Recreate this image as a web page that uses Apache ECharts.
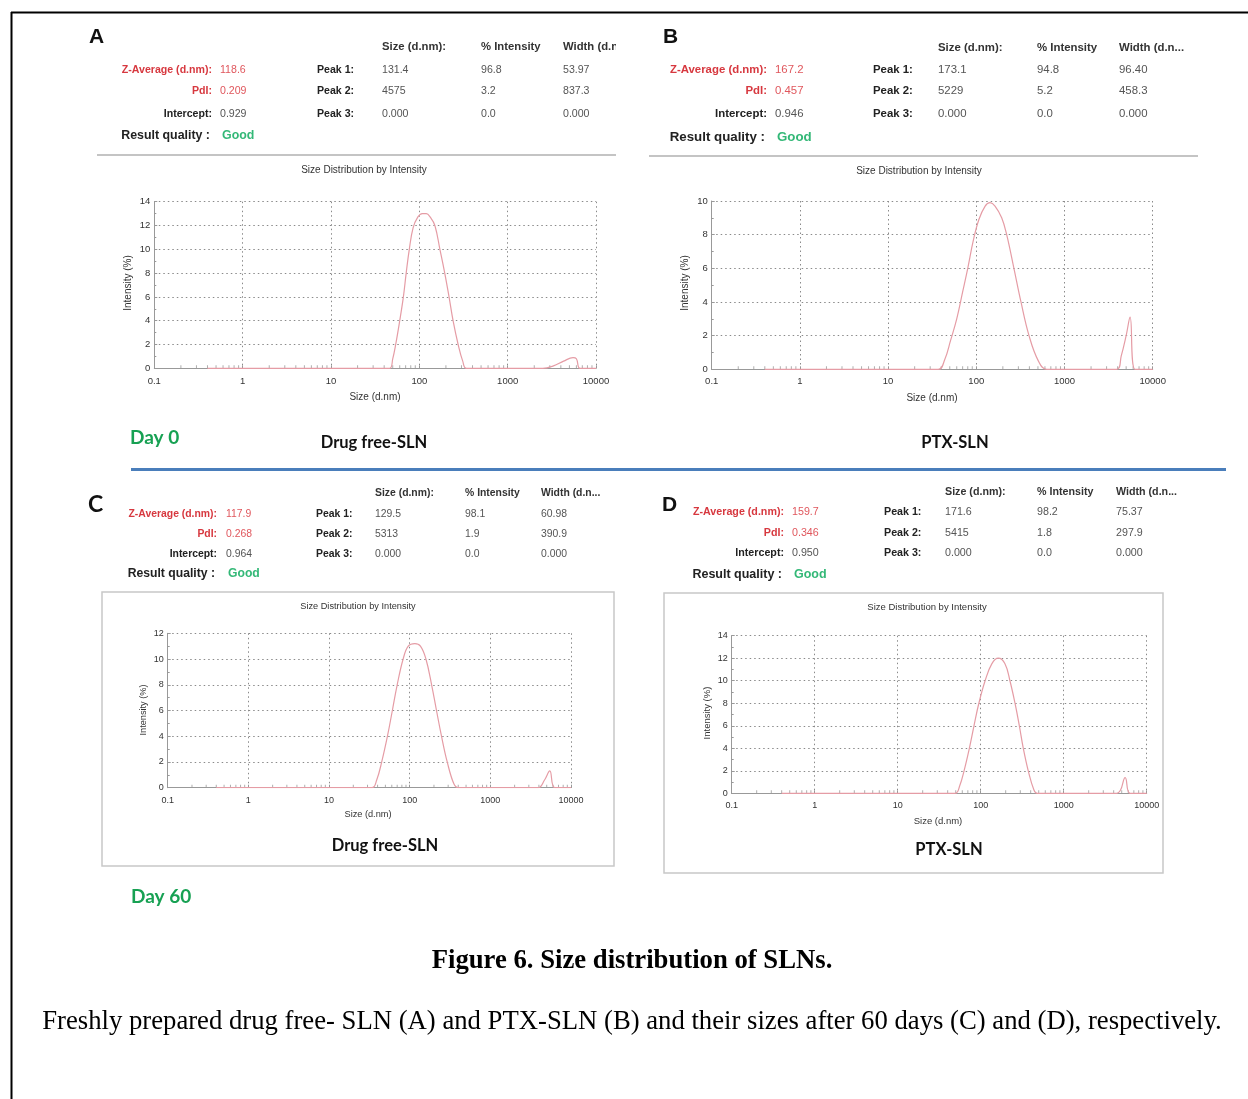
<!DOCTYPE html>
<html>
<head>
<meta charset="utf-8">
<script src="https://cdn.jsdelivr.net/npm/echarts@6/dist/echarts.min.js"></script>
<style>
  html, body { margin: 0; padding: 0; background: #fff; }
  #fig { width: 1248px; height: 1099px; }
</style>
</head>
<body>
<div id="fig"></div>
<script>
// ---- Size distribution by intensity: size bins (d.nm) and intensity (%) ----
const sizesA     = [0.4, 46, 50,  54, 60, 66, 71, 77, 85,   96,   108,  120,  133,  150, 171, 194, 217, 241, 275, 310, 342, 2500, 3300, 4300, 5500, 6000, 6600, 10000];
const intensityA = [0,   0,  0.8, 2,  4,  6,  8,  10, 11.8, 12.7, 13.0, 13.0, 12.7, 12,  10,  8,   6,   4,   2,   0.6, 0,   0,    0.2,  0.6,  0.9,  0.8,  0,    0];

const sizesB     = [0.4, 37, 44,  51,  60,  70,  80, 92,  107, 126, 143, 163, 194, 221, 267, 321, 396, 505, 628, 3900, 4400, 5000, 5540, 6300, 10000];
const intensityB = [0,   0,  0.6, 1.7, 3.0, 4.6, 6,  7.6, 8.9, 9.7, 9.9, 9.7, 9,   8,   6,   4,   2,   0.5, 0,   0,    0.8,  2,    3.1,  0,    0];

const sizesC     = [0.4, 34, 39,  45, 53, 61, 70, 83, 96, 116,  136, 159, 187, 215, 248, 292, 353, 399, 3900, 4700, 5460, 6300, 10000];
const intensityC = [0,   0,  0.6, 2,  4,  6,  8,  10, 11, 11.2, 11,  10,  8,   6,   4,   2,   0.3, 0,   0,    0.6,  1.3,  0,    0];

const sizesD     = [0.4, 49, 56,  63, 73, 83, 95, 113, 136,  163, 196,  225, 259, 292, 326, 374, 438, 481, 4360, 5500, 6300, 10000];
const intensityD = [0,   0,  0.7, 2,  4,  6,  8,  10,  11.5, 12,  11.5, 10,  8,   6,   4,   2,   0.3, 0,   0,    1.4,  0,    0];

// ---- Result tables ----
const summaryLabels = ['Z-Average (d.nm):', 'PdI:', 'Intercept:', 'Result quality :'];
const peakLabels    = ['Peak 1:', 'Peak 2:', 'Peak 3:'];
const peakHeaders   = ['Size (d.nm):', '% Intensity', 'Width (d.n...'];

const summaryA = ['118.6', '0.209', '0.929', 'Good'];
const summaryB = ['167.2', '0.457', '0.946', 'Good'];
const summaryC = ['117.9', '0.268', '0.964', 'Good'];
const summaryD = ['159.7', '0.346', '0.950', 'Good'];

const peaksA = [['131.4', '96.8', '53.97'], ['4575', '3.2', '837.3'], ['0.000', '0.0', '0.000']];
const peaksB = [['173.1', '94.8', '96.40'], ['5229', '5.2', '458.3'], ['0.000', '0.0', '0.000']];
const peaksC = [['129.5', '98.1', '60.98'], ['5313', '1.9', '390.9'], ['0.000', '0.0', '0.000']];
const peaksD = [['171.6', '98.2', '75.37'], ['5415', '1.8', '297.9'], ['0.000', '0.0', '0.000']];

const sampleNames = ['Drug free-SLN', 'PTX-SLN', 'Drug free-SLN', 'PTX-SLN'];
const dayLabels   = ['Day 0', 'Day 60'];
const yMaxes      = [14, 10, 12, 14];

// ---- Axis ticks ----
const xTickLabels = ['0.1', '1', '10', '100', '1000', '10000'];
const minorDecades = [0.1, 1, 10, 100, 1000];
const minorSteps   = [2, 3, 4, 5, 6, 7, 8, 9];
const minorTicks = [];
minorDecades.forEach(d => minorSteps.forEach(m => minorTicks.push(+(d * m).toPrecision(3))));

const captionTitle = 'Figure 6. Size distribution of SLNs.';
const captionText  = 'Freshly prepared drug free- SLN (A) and PTX-SLN (B) and their sizes after 60 days (C) and (D), respectively.';

// ---- Fonts / colours ----
const SANS  = "'Liberation Sans', Arial, sans-serif";
const SERIF = "'Liberation Serif', 'Times New Roman', serif";
const HUM   = "Lato, 'Open Sans', sans-serif";
const RED_LABEL = '#d7383f';
const RED_VALUE = '#e0575d';
const GOOD = '#33b877';
const DAY_GREEN = '#17a153';
const CURVE = '#e59ca5';

// ---- Panel layout ----
const panels = [
  { letter: 'A', lx: 89,  ly: 37,  lfont: `bold 21px ${SANS}`, fs: 10.6, hfs: 11.3, sumRight: 212, valX: 220, peakX: 317, cols: [382, 481, 563], hy: 47, rows: [70, 91, 114, 136],
    sep: [97, 155, 616], box: null, grid: { left: 154.3, top: 201.7, width: 441.7, height: 166.6 },
    title: [364, 170], tfs: 10, yName: [128, 283], xName: [375, 397], tick: 9.5, xm: 8, sample: [374, 443],
    sizes: sizesA, vals: intensityA, summary: summaryA, peaks: peaksA },
  { letter: 'B', lx: 663, ly: 37,  lfont: `bold 21px ${SANS}`, fs: 11.4, hfs: 11.4, sumRight: 767, valX: 775, peakX: 873, cols: [938, 1037, 1119], hy: 48, rows: [70, 91, 114, 137],
    sep: [649, 156, 1198], box: null, grid: { left: 711.7, top: 201, width: 441, height: 168.3 },
    title: [919, 171], tfs: 10, yName: [685, 283], xName: [932, 398], tick: 9.5, xm: 7.5, sample: [955, 443],
    sizes: sizesB, vals: intensityB, summary: summaryB, peaks: peaksB },
  { letter: 'C', lx: 88,  ly: 505, lfont: `bold 23px ${HUM}`, fs: 10.4, hfs: 10.4, sumRight: 217, valX: 226, peakX: 316, cols: [375, 465, 541], hy: 493, rows: [514, 534, 554, 574],
    sep: null, box: [102, 592, 614, 866], grid: { left: 167.7, top: 633.3, width: 403.3, height: 154.4 },
    title: [358, 606], tfs: 9.2, yName: [143, 710], xName: [368, 814], tick: 9, xm: 8, sample: [385, 846],
    sizes: sizesC, vals: intensityC, summary: summaryC, peaks: peaksC },
  { letter: 'D', lx: 662, ly: 505, lfont: `bold 21px ${SANS}`, fs: 10.7, hfs: 10.7, sumRight: 784, valX: 792, peakX: 884, cols: [945, 1037, 1116], hy: 492, rows: [512, 533, 553, 575],
    sep: null, box: [664, 593, 1163, 873], grid: { left: 731.7, top: 635.7, width: 415, height: 157.6 },
    title: [927, 607], tfs: 9.5, yName: [707, 713], xName: [938, 821], tick: 9, xm: 8, sample: [949, 850],
    sizes: sizesD, vals: intensityD, summary: summaryD, peaks: peaksD }
];

function T(x, y, text, font, fill, align, extra) {
  return Object.assign({
    type: 'text', x: x, y: y, silent: true, z: 10,
    style: { text: text, font: font, fill: fill || '#222',
             align: align || 'left', textAlign: align || 'left',
             verticalAlign: 'middle', textVerticalAlign: 'middle' }
  }, extra || {});
}
function L(x1, y1, x2, y2, color, w) {
  return { type: 'line', silent: true, z: 5, shape: { x1, y1, x2, y2 }, style: { stroke: color, lineWidth: w } };
}

const elements = [];
const grids = [], xAxes = [], yAxes = [], series = [];

panels.forEach((p, i) => {
  const bold = `bold ${p.fs}px ${SANS}`;
  const reg  = `${p.fs}px ${SANS}`;
  const qual = `bold ${(p.fs * 1.17).toFixed(1)}px ${SANS}`;

  // panel letter
  elements.push(T(p.lx, p.ly, p.letter, p.lfont, '#111', 'left'));

  // column headers
  peakHeaders.forEach((h, c) => elements.push(T(p.cols[c], p.hy, h, `bold ${p.hfs}px ${SANS}`, '#333', 'left')));

  // summary block
  summaryLabels.forEach((lab, r) => {
    const isRed = r < 2;
    if (r === 3) {
      elements.push(T(p.sumRight - 2, p.rows[r], lab, qual, '#222', 'right'));
      elements.push(T(p.valX + 2, p.rows[r], p.summary[r], qual, GOOD, 'left'));
    } else {
      elements.push(T(p.sumRight, p.rows[r], lab, bold, isRed ? RED_LABEL : '#222', 'right'));
      elements.push(T(p.valX, p.rows[r], p.summary[r], reg, isRed ? RED_VALUE : '#555', 'left'));
    }
  });

  // peak table
  peakLabels.forEach((lab, r) => {
    elements.push(T(p.peakX, p.rows[r], lab, bold, '#222', 'left'));
    p.peaks[r].forEach((v, c) => elements.push(T(p.cols[c], p.rows[r], v, reg, '#555', 'left')));
  });

  if (p.sep) elements.push(L(p.sep[0], p.sep[1], p.sep[2], p.sep[1], '#c4c4c4', 2));
  if (p.box) elements.push({ type: 'rect', silent: true, z: 1,
    shape: { x: p.box[0], y: p.box[1], width: p.box[2] - p.box[0], height: p.box[3] - p.box[1] },
    style: { fill: 'none', stroke: '#c8c8c8', lineWidth: 1.5 } });

  // chart captions
  elements.push(T(p.title[0], p.title[1], 'Size Distribution by Intensity', `${p.tfs}px ${SANS}`, '#333', 'center'));
  elements.push(T(p.yName[0], p.yName[1], 'Intensity (%)', `${p.tfs}px ${SANS}`, '#333', 'center', { rotation: Math.PI / 2 }));
  elements.push(T(p.xName[0], p.xName[1], 'Size (d.nm)', `${p.tfs}px ${SANS}`, '#333', 'center'));
  elements.push(T(p.sample[0], p.sample[1], sampleNames[i], `bold 16.5px ${HUM}`, '#111', 'center'));

  grids.push(Object.assign({ containLabel: false }, p.grid));

  xAxes.push({
    type: 'log', logBase: 10, gridIndex: i, min: 0.1, max: 10000,
    axisLine: { show: true, lineStyle: { color: '#999', width: 1 } },
    axisTick: { show: true, inside: true, length: 3, lineStyle: { color: '#999' } },
    axisLabel: { margin: p.xm, fontSize: p.tick, fontFamily: SANS, color: '#333',
      formatter: v => { const k = Math.round(Math.log10(v)) + 1; return xTickLabels[k] !== undefined ? xTickLabels[k] : ''; } },
    splitLine: { show: true, lineStyle: { color: '#8a8a8a', type: [1.5, 3], width: 1 } }
  });
  yAxes.push({
    type: 'value', gridIndex: i, min: 0, max: yMaxes[i], interval: 2,
    axisLine: { show: true, lineStyle: { color: '#999', width: 1 } },
    axisTick: { show: true, inside: true, length: 3, lineStyle: { color: '#999' } },
    minorTick: { show: true, splitNumber: 2, length: 2, lineStyle: { color: '#999' } },
    axisLabel: { margin: 4, fontSize: p.tick, fontFamily: SANS, color: '#333' },
    splitLine: { show: true, lineStyle: { color: '#8a8a8a', type: [1.5, 3], width: 1 } }
  });

  // minor decade ticks along the size axis
  series.push({
    type: 'scatter', xAxisIndex: i, yAxisIndex: i, silent: true, z: 1,
    symbol: 'rect', symbolSize: [1, 3], symbolOffset: [0, -1.5],
    itemStyle: { color: '#9a9a9a' },
    data: minorTicks.map(v => [v, 0])
  });
  series.push({
    type: 'line', xAxisIndex: i, yAxisIndex: i, silent: true, z: 3,
    showSymbol: false, symbol: 'none', smooth: 0.4,
    lineStyle: { color: CURVE, width: 1.2 },
    data: p.sizes.map((s, k) => [s, p.vals[k]])
  });
});

// white-out where panel A's width header is truncated
elements.push({ type: 'rect', silent: true, z: 20, shape: { x: 616, y: 38, width: 30, height: 18 }, style: { fill: '#fff' } });

// day labels and divider
elements.push(T(130, 438, dayLabels[0], `bold 19px ${HUM}`, DAY_GREEN, 'left'));
elements.push(T(131, 897, dayLabels[1], `bold 19px ${HUM}`, DAY_GREEN, 'left'));
elements.push(L(131, 469.5, 1226, 469.5, '#4a7ebb', 3));

// outer frame
elements.push(L(11, 12.5, 1248, 12.5, '#000', 2));
elements.push(L(11.5, 12, 11.5, 1099, '#000', 2));

// caption
elements.push(T(632, 961, captionTitle, `bold 26.7px ${SERIF}`, '#000', 'center'));
elements.push(T(632, 1022, captionText, `26.7px ${SERIF}`, '#000', 'center'));

const chart = echarts.init(document.getElementById('fig'), null, { renderer: 'canvas', width: 1248, height: 1099 });
chart.setOption({
  backgroundColor: '#fff',
  animation: false,
  grid: grids,
  xAxis: xAxes,
  yAxis: yAxes,
  series: series,
  graphic: { elements: elements }
});
</script>
</body>
</html>
